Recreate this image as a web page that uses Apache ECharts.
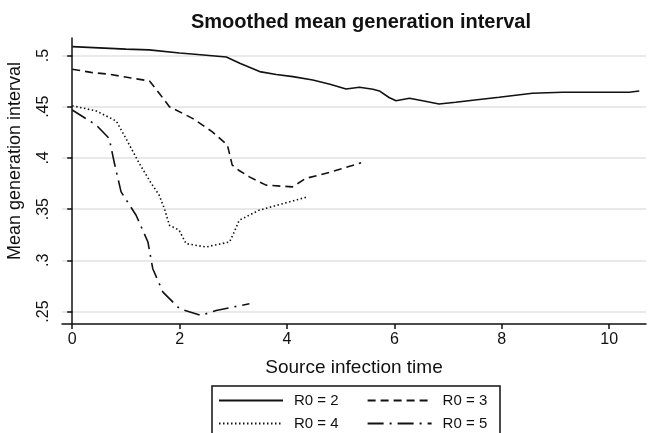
<!DOCTYPE html>
<html>
<head>
<meta charset="utf-8">
<script src="https://cdn.jsdelivr.net/npm/echarts@6/dist/echarts.min.js"></script>
<style>
  html, body { margin: 0; padding: 0; background: #fff }
  #chart { width: 649px; height: 433px }
</style>
</head>
<body>
<div id="chart"></div>
<script>
// tick labels
const xTicks = [0, 2, 4, 6, 8, 10]
const yTicks = [0.25, 0.3, 0.35, 0.4, 0.45, 0.5]

// R0 = 2
const timeR02 = [0, 0.5, 1, 1.43, 2, 2.23, 2.87, 3.12, 3.49, 3.8, 4.11, 4.48, 4.8, 5.1, 5.35, 5.6, 5.72, 5.9, 6.03, 6.28, 6.55, 6.83, 7.14, 7.5, 7.95, 8.57, 9.13, 10.37, 10.56]
const meanR02 = [0.5087, 0.5075, 0.5062, 0.5055, 0.5025, 0.5015, 0.4985, 0.4925, 0.4843, 0.4815, 0.4794, 0.476, 0.472, 0.4673, 0.469, 0.467, 0.4654, 0.459, 0.4559, 0.4582, 0.4555, 0.4527, 0.4543, 0.4565, 0.4592, 0.4631, 0.4641, 0.4641, 0.4654]

// R0 = 3
const timeR03 = [0, 0.35, 0.69, 1.1, 1.44, 1.62, 1.81, 2.24, 2.61, 2.89, 2.98, 3.1, 3.3, 3.61, 4.1, 4.35, 4.8, 5.38]
const meanR03 = [0.4866, 0.4835, 0.4817, 0.478, 0.4751, 0.4631, 0.45, 0.4386, 0.4255, 0.4125, 0.393, 0.388, 0.3815, 0.3734, 0.3717, 0.38, 0.386, 0.3952]

// R0 = 4
const timeR04 = [0, 0.45, 0.82, 1.0, 1.25, 1.45, 1.62, 1.72, 1.81, 1.99, 2.12, 2.49, 2.93, 3.02, 3.11, 3.48, 3.9, 4.38]
const meanR04 = [0.451, 0.4458, 0.436, 0.419, 0.3946, 0.377, 0.3636, 0.35, 0.3342, 0.3295, 0.3163, 0.313, 0.3179, 0.328, 0.3391, 0.3489, 0.355, 0.3619]

// R0 = 5
const timeR05 = [0, 0.45, 0.69, 0.78, 0.91, 1.19, 1.41, 1.5, 1.69, 2.0, 2.4, 2.68, 3.3]
const meanR05 = [0.4468, 0.432, 0.419, 0.3962, 0.3668, 0.344, 0.3179, 0.2918, 0.2689, 0.2527, 0.2462, 0.251, 0.2576]

const FONT = "'Liberation Sans', Arial, sans-serif"

function pairs(xs, ys) {
  return xs.map((x, i) => [x, ys[i]])
}

function makeSeries(name, xs, ys, dash) {
  return {
    name,
    type: 'line',
    data: pairs(xs, ys),
    symbol: 'none',
    lineStyle: { color: '#111', width: 1.6, type: dash },
    itemStyle: { color: '#111' }
  }
}

const legendBase = {
  left: 218,
  itemWidth: 64,
  itemHeight: 12,
  itemGap: 28,
  padding: 0,
  itemStyle: { opacity: 0 },
  textStyle: { fontFamily: FONT, fontSize: 15, color: '#111', padding: [0, 0, 0, 6] }
}

const chart = echarts.init(document.getElementById('chart'))
chart.setOption({
  animation: false,
  backgroundColor: '#fff',
  title: {
    text: 'Smoothed mean generation interval',
    left: 356,
    textAlign: 'center',
    top: 7,
    textStyle: { fontFamily: FONT, fontSize: 20, fontWeight: 'bold', color: '#111' }
  },
  grid: { left: 62, right: 3, top: 38, bottom: 109 },
  xAxis: {
    type: 'value',
    min: -0.19,
    max: 10.685,
    name: 'Source infection time',
    nameLocation: 'middle',
    nameGap: 34,
    nameTextStyle: { fontFamily: FONT, fontSize: 19, color: '#111' },
    axisLine: { lineStyle: { color: '#111', width: 1.5 } },
    axisTick: { length: 5, customValues: xTicks, lineStyle: { color: '#111', width: 1.5 } },
    axisLabel: { customValues: xTicks, fontFamily: FONT, fontSize: 16, color: '#111', margin: 8 },
    splitLine: { show: false }
  },
  yAxis: {
    type: 'value',
    min: 0.2378,
    max: 0.5171,
    axisLine: { show: true, lineStyle: { color: '#111', width: 1.5 } },
    axisTick: { show: true, length: 5, customValues: yTicks, lineStyle: { color: '#111', width: 1.5 } },
    axisLabel: {
      customValues: yTicks,
      rotate: 90,
      margin: 10,
      fontFamily: FONT,
      fontSize: 16,
      color: '#111',
      formatter: v => String(v).replace(/^0/, '')
    },
    splitLine: { show: true, lineStyle: { color: '#e2e2e2', width: 1.5 } }
  },
  legend: [
    Object.assign({}, legendBase, { top: 393, data: ['R0 = 2', 'R0 = 3'] }),
    Object.assign({}, legendBase, { top: 416, data: ['R0 = 4', 'R0 = 5'] })
  ],
  graphic: [
    {
      type: 'rect',
      shape: { x: 212, y: 386, width: 288, height: 60 },
      style: { fill: 'none', stroke: '#111', lineWidth: 1.5 }
    },
    {
      type: 'text',
      x: 15,
      y: 161,
      rotation: Math.PI / 2,
      style: {
        text: 'Mean generation interval',
        fontFamily: FONT,
        fontSize: 18,
        fill: '#111',
        align: 'center',
        verticalAlign: 'middle'
      }
    }
  ],
  series: [
    makeSeries('R0 = 2', timeR02, meanR02, 'solid'),
    makeSeries('R0 = 3', timeR03, meanR03, [8, 5]),
    makeSeries('R0 = 4', timeR04, meanR04, [1.5, 2.5]),
    makeSeries('R0 = 5', timeR05, meanR05, [16, 6, 2, 6])
  ]
})
</script>
</body>
</html>
